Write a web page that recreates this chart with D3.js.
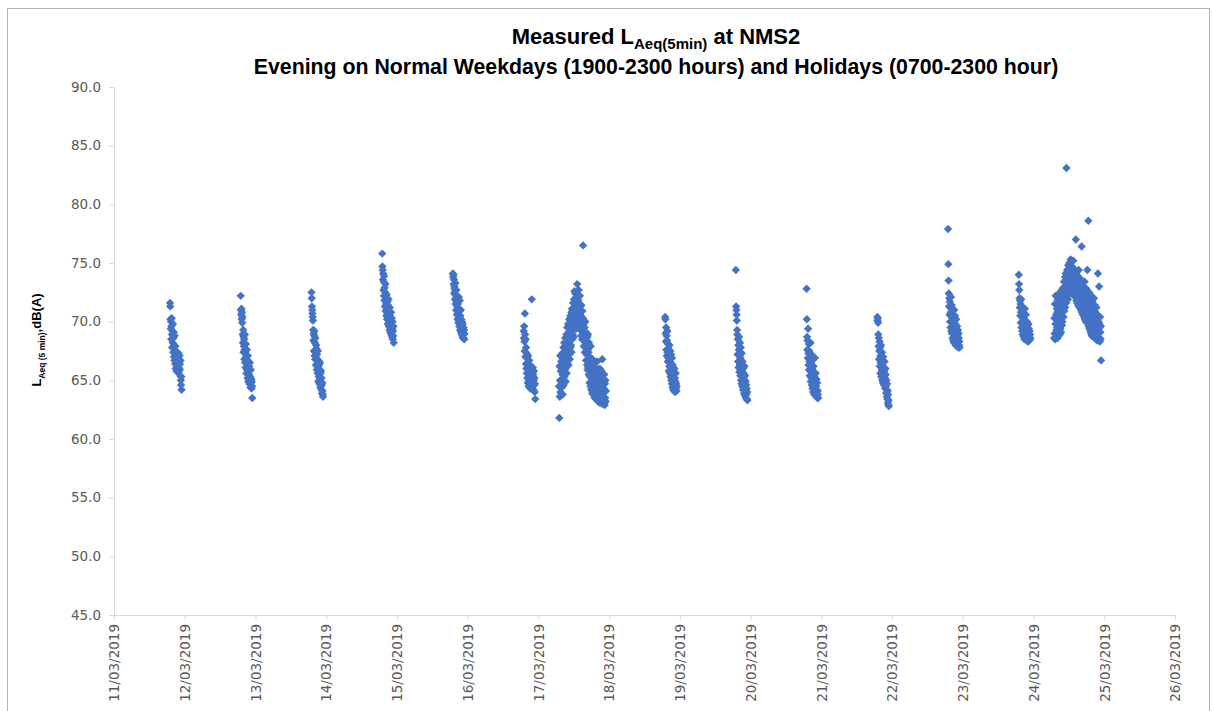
<!DOCTYPE html>
<html>
  <head>
    <meta charset="utf-8">
    <script src="https://cdn.jsdelivr.net/npm/d3@7"></script>
    <style>
      body { margin: 0; background: #fff; }
      svg { display: block; }
    </style>
  </head>
  <body>
    <svg width="1212" height="711"></svg>
    <script>

        // Tick labels for both axes
        var dateTicks = ["11/03/2019", "12/03/2019", "13/03/2019", "14/03/2019", "15/03/2019", "16/03/2019",
                         "17/03/2019", "18/03/2019", "19/03/2019", "20/03/2019", "21/03/2019", "22/03/2019",
                         "23/03/2019", "24/03/2019", "25/03/2019", "26/03/2019"];
        var levelTicks = [45, 50, 55, 60, 65, 70, 75, 80, 85, 90];

        // 5 minute LAeq readings, evenings start 19:00, holidays start 07:00
        var d11 = [71.6, 71.3, 70.2, 69.4, 70.0, 68.5, 69.6, 70.3, 68.9, 67.8, 69.2, 68.2, 69.8, 67.4, 68.6, 69.1,
                   67.0, 68.0, 66.7, 68.8, 67.3, 66.4, 67.9, 66.0, 67.5, 66.8, 65.8, 67.2, 66.2, 65.9, 67.0, 66.5,
                   65.7, 66.9, 66.1, 67.3, 65.8, 66.6, 66.0, 67.1, 65.9, 66.4, 65.4, 66.7, 65.0, 64.6, 65.3, 64.2];
        var d12 = [72.2, 71.0, 70.6, 71.1, 70.2, 70.8, 69.9, 70.4, 68.9, 68.2, 69.3, 67.4, 68.7, 67.9, 68.5, 66.8,
                   67.6, 68.9, 66.5, 67.3, 66.1, 68.1, 67.0, 65.6, 66.8, 67.6, 65.9, 66.4, 65.2, 67.1, 66.0, 64.9,
                   66.6, 65.5, 66.2, 64.7, 65.8, 66.5, 64.9, 65.3, 64.4, 65.9, 64.8, 65.1, 64.3, 64.9, 64.5, 63.5];
        var d13 = [72.5, 72.0, 71.3, 71.0, 70.7, 70.4, 70.1, 69.3, 68.4, 69.0, 67.5, 68.8, 69.2, 67.1, 68.2, 66.8,
                   68.6, 67.4, 66.3, 68.0, 66.9, 67.7, 65.9, 67.2, 66.4, 65.6, 67.5, 66.1, 64.9, 66.7, 65.3, 66.3,
                   64.7, 65.9, 65.1, 66.5, 64.4, 65.6, 64.9, 65.8, 64.2, 65.2, 64.6, 63.9, 64.8, 64.1, 63.8, 63.6];
        var d14 = [75.8, 74.7, 74.4, 73.6, 74.1, 72.7, 73.4, 72.2, 73.9, 71.8, 72.9, 71.3, 72.5, 73.2, 70.9, 72.0,
                   71.5, 70.5, 72.3, 71.1, 70.2, 71.7, 70.7, 69.8, 71.4, 70.3, 71.9, 69.6, 70.9, 70.0, 69.3, 71.2,
                   70.5, 69.1, 70.1, 69.6, 70.8, 68.9, 69.8, 70.3, 68.7, 69.4, 70.0, 68.5, 69.2, 68.8, 69.6, 68.2];
        var d15 = [74.1, 73.8, 74.0, 73.2, 73.6, 72.4, 73.0, 72.8, 71.9, 72.6, 73.3, 71.5, 72.2, 71.0, 72.7, 71.7,
                   70.6, 71.3, 72.0, 70.2, 71.5, 70.8, 69.9, 71.1, 72.1, 70.4, 69.6, 70.9, 71.8, 69.3, 70.5, 69.8,
                   71.0, 69.1, 70.2, 69.6, 68.9, 70.0, 69.4, 68.7, 69.8, 69.2, 68.6, 69.5, 68.9, 69.3, 68.5, 69.0];
        var d16 = [69.2, 68.6, 69.6, 68.3, 67.5, 70.7, 68.9, 67.0, 68.5, 66.4, 67.8, 66.0, 67.3, 65.6, 66.9, 65.2,
                   66.5, 64.8, 67.1, 65.9, 64.5, 66.2, 65.0, 66.7, 64.7, 65.5, 66.3, 64.3, 65.8, 64.9, 66.0, 65.2,
                   64.6, 71.9, 65.7, 64.4, 65.3, 66.1, 64.8, 65.5, 64.2, 65.0, 65.8, 64.6, 65.2, 64.0, 64.7, 63.4];
        var d17 = [64.5, 61.8, 66.2, 63.6, 65.0, 67.1, 64.0, 65.8, 63.9, 66.6, 64.8, 66.0,
                   64.4, 67.3, 65.5, 63.8, 66.8, 65.1, 67.8, 64.6, 66.3, 68.2, 65.3, 67.0,
                   65.9, 68.6, 66.5, 64.9, 67.6, 66.1, 68.9, 65.6, 67.3, 69.5, 66.4, 68.1,
                   66.9, 69.8, 67.5, 66.3, 68.7, 70.2, 67.2, 69.1, 66.8, 68.4, 70.5, 67.8,
                   69.4, 68.0, 70.8, 67.4, 69.7, 71.1, 68.5, 70.1, 68.9, 71.6, 69.3, 70.6,
                   68.7, 71.9, 70.3, 72.6, 69.6, 71.3, 72.4, 70.0, 71.7, 69.4, 72.1, 70.7,
                   71.5, 70.2, 73.2, 69.9, 72.0, 70.9, 71.8, 69.5, 72.7, 70.4, 71.2, 69.8,
                   70.6, 72.2, 69.3, 71.0, 69.9, 70.5, 68.8, 71.4, 69.6, 70.2, 68.5, 70.9,
                   69.2, 70.3, 76.5, 68.6, 69.8, 67.9, 70.1, 68.3, 69.5, 67.4, 68.9, 70.0,
                   67.8, 69.1, 66.7, 68.4, 67.2, 69.0, 66.3, 68.7, 65.9, 67.6, 68.9, 66.1,
                   67.4, 65.5, 68.2, 66.0, 64.8, 67.0, 65.3, 66.6, 64.5, 67.9, 65.7, 64.2,
                   66.4, 64.7, 65.9, 63.9, 66.8, 65.1, 64.0, 66.2, 64.6, 65.6, 63.7, 66.5,
                   64.9, 63.5, 65.8, 64.3, 66.1, 63.8, 65.2, 64.5, 63.4, 65.7, 64.1, 66.6,
                   63.6, 65.0, 64.4, 63.2, 65.9, 64.0, 63.5, 65.3, 64.7, 63.1, 66.0, 64.2,
                   63.7, 65.4, 64.8, 63.3, 64.1, 65.8, 63.0, 64.6, 66.8, 63.9, 64.9, 63.4,
                   65.1, 63.6, 64.3, 63.0, 65.5, 64.0, 62.9, 64.7, 63.5, 65.0, 63.2, 64.1];
        var d18 = [70.4, 70.2, 69.0, 68.3, 69.5, 67.6, 68.8, 67.1, 68.4, 69.2, 67.4, 66.6, 68.1, 66.9, 67.7, 65.8,
                   67.3, 66.2, 68.0, 65.6, 66.8, 67.5, 65.3, 66.5, 67.2, 65.0, 66.1, 64.7, 66.9, 65.4, 64.4, 66.3,
                   65.1, 64.2, 65.8, 64.8, 65.5, 64.1, 66.0, 64.6, 65.2, 64.0, 64.9, 65.6, 64.3, 64.7, 64.1, 64.5];
        var d19 = [74.4, 71.3, 71.0, 70.6, 70.1, 69.3, 68.9, 67.2, 68.5, 66.6, 68.0, 66.1, 67.6, 68.7, 65.7, 67.1,
                   66.3, 68.2, 65.4, 66.9, 67.8, 65.0, 66.4, 64.7, 67.3, 65.8, 64.5, 66.6, 65.2, 64.2, 66.0, 64.8,
                   65.6, 63.9, 65.1, 66.2, 64.4, 63.7, 65.4, 64.1, 64.9, 63.5, 64.6, 63.8, 64.3, 63.4, 64.0, 63.3];
        var d20 = [72.8, 70.2, 68.7, 67.6, 68.4, 66.9, 69.4, 67.3, 66.3, 68.1, 65.9, 67.5, 66.6, 65.4, 67.0, 65.8,
                   68.2, 64.9, 66.5, 65.2, 67.2, 64.6, 66.0, 65.5, 64.3, 66.8, 65.0, 64.0, 66.2, 64.7, 65.7, 63.8,
                   65.3, 64.4, 66.9, 63.7, 64.9, 65.6, 63.9, 64.5, 65.1, 63.6, 64.2, 64.8, 63.5, 64.1, 63.8, 63.5];
        var d21 = [70.4, 70.1, 70.3, 69.9, 68.9, 67.9, 68.6, 66.8, 67.5, 68.3, 66.2, 67.8, 65.6, 67.1, 66.5, 68.0,
                   65.3, 66.8, 65.9, 67.4, 65.0, 66.3, 65.7, 64.8, 67.0, 65.4, 66.1, 64.6, 65.8, 66.6, 64.9, 65.2,
                   64.3, 66.0, 65.5, 64.5, 63.9, 65.0, 64.2, 63.6, 64.7, 63.4, 64.1, 63.1, 63.8, 62.9, 63.3, 62.8];
        var d22 = [77.9, 74.9, 73.5, 72.4, 71.3, 72.0, 70.6, 71.7, 70.0, 71.2, 69.5, 70.8, 72.1, 69.2, 70.4, 71.4,
                   69.0, 70.1, 68.6, 70.9, 69.7, 68.4, 70.3, 69.4, 68.2, 71.0, 69.1, 68.7, 70.5, 68.3, 69.8, 68.0,
                   69.5, 70.2, 68.5, 69.0, 67.9, 69.6, 68.8, 68.1, 69.3, 68.4, 67.8, 69.0, 68.6, 68.0, 68.3, 67.8];
        var d23 = [74.0, 73.2, 72.7, 72.0, 71.2, 71.8, 70.5, 71.5, 69.9, 70.8, 71.9, 69.5, 70.4, 71.3, 69.2, 70.7,
                   68.9, 70.1, 71.0, 69.4, 68.7, 70.5, 69.8, 68.5, 70.2, 71.1, 69.1, 68.6, 69.9, 70.6, 68.8, 69.6,
                   68.4, 70.0, 69.3, 68.6, 69.7, 68.3, 69.0, 69.8, 68.5, 69.4, 68.7, 68.4, 69.2, 68.5, 68.9, 68.6];
        var d24 = [68.6, 70.3, 69.0, 71.5, 68.5, 69.8, 72.2, 68.9, 70.6, 69.3, 68.7, 71.1,
                   69.5, 70.8, 68.6, 71.9, 69.9, 68.8, 70.4, 72.4, 69.2, 70.1, 71.4, 68.9,
                   70.7, 69.4, 72.0, 70.2, 69.1, 71.6, 70.5, 72.7, 69.7, 71.2, 70.0, 72.3,
                   71.0, 72.9, 70.4, 71.8, 73.4, 70.9, 72.5, 71.5, 73.8, 71.2, 72.2, 74.1,
                   72.8, 71.6, 83.1, 73.3, 72.1, 74.4, 72.6, 73.7, 71.9, 74.8, 73.0, 72.4,
                   74.2, 72.9, 75.0, 73.5, 72.5, 74.6, 73.1, 75.3, 72.7, 74.0, 73.6, 75.1,
                   73.2, 74.7, 72.6, 74.3, 73.8, 72.3, 75.2, 73.4, 72.8, 74.5, 73.0, 72.2,
                   74.0, 72.7, 73.6, 72.1, 77.0, 73.3, 71.8, 74.2, 72.5, 73.1, 71.6, 73.9,
                   72.4, 73.5, 71.4, 72.9, 74.4, 71.9, 73.0, 71.2, 72.6, 73.7, 71.5, 72.2,
                   73.2, 71.0, 72.7, 71.7, 76.4, 70.8, 72.4, 71.3, 73.0, 70.6, 71.9, 72.6,
                   71.1, 72.3, 70.4, 71.6, 73.4, 70.2, 71.9, 70.9, 72.1, 70.0, 71.4, 72.8,
                   70.6, 71.8, 69.9, 74.4, 71.2, 70.3, 72.0, 78.6, 69.6, 71.0, 72.5, 70.5,
                   69.4, 71.5, 70.1, 69.2, 72.3, 70.7, 69.0, 71.3, 69.8, 70.5, 68.8, 71.8,
                   70.2, 69.1, 71.0, 68.7, 70.6, 69.5, 72.0, 68.9, 70.3, 69.3, 71.4, 68.6,
                   69.9, 70.8, 68.5, 69.6, 71.2, 68.9, 70.1, 69.2, 68.4, 70.5, 74.1, 69.0,
                   68.7, 70.0, 69.4, 73.0, 68.6, 69.8, 68.3, 70.4, 69.1, 68.5, 69.6, 66.7];

        // Which day each run of readings belongs to and when it starts
        var runs = [
          {date: "11/03/2019", start: "19:00", values: d11},
          {date: "12/03/2019", start: "19:00", values: d12},
          {date: "13/03/2019", start: "19:00", values: d13},
          {date: "14/03/2019", start: "19:00", values: d14},
          {date: "15/03/2019", start: "19:00", values: d15},
          {date: "16/03/2019", start: "19:00", values: d16},
          {date: "17/03/2019", start: "07:00", values: d17},
          {date: "18/03/2019", start: "19:00", values: d18},
          {date: "19/03/2019", start: "19:00", values: d19},
          {date: "20/03/2019", start: "19:00", values: d20},
          {date: "21/03/2019", start: "19:00", values: d21},
          {date: "22/03/2019", start: "19:00", values: d22},
          {date: "23/03/2019", start: "19:00", values: d23},
          {date: "24/03/2019", start: "07:00", values: d24}
        ];

        var parseDay = d3.timeParse("%d/%m/%Y");
        var parseStamp = d3.timeParse("%d/%m/%Y %H:%M");

        var points = [];
        runs.forEach(function(r) {
          var t0 = parseStamp(r.date + " " + r.start);
          r.values.forEach(function(v, i) {
            points.push({t: d3.timeMinute.offset(t0, i * 5), v: v});
          });
        });

        // plot area (careful: "top" is taken by window.top)
        var plotLeft = 114, plotRight = 1175, plotTop = 87, plotBottom = 615;
        var blue = "#4472C4";
        var axisGrey = "#d9d9d9";
        var labelGrey = "#595959";

        var svg = d3.select("svg");

        // chart border
        svg.append("rect")
          .attr("x", 7.5).attr("y", 8.5)
          .attr("width", 1202).attr("height", 720)
          .attr("fill", "none")
          .attr("stroke", "#b4b4b4");

        var xScale = d3.scaleTime()
          .domain([parseDay(dateTicks[0]), parseDay(dateTicks[dateTicks.length - 1])])
          .range([plotLeft, plotRight]);

        var yScale = d3.scaleLinear()
          .domain([45, 90])
          .range([plotBottom, plotTop]);

        // Y axis
        var yAxis = svg.append("g")
          .attr("transform", "translate(" + plotLeft + ",0)")
          .call(d3.axisLeft(yScale).tickValues(levelTicks).tickFormat(d3.format(".1f")).tickSize(5).tickPadding(8));

        // X axis
        var xAxis = svg.append("g")
          .attr("transform", "translate(0," + plotBottom + ")")
          .call(d3.axisBottom(xScale).tickValues(dateTicks.map(parseDay))
                .tickFormat(d3.timeFormat("%d/%m/%Y")).tickSize(5));
        xAxis.selectAll("text")
          .attr("transform", "rotate(-90)")
          .attr("x", -9)
          .attr("y", 0)
          .attr("dy", "0.35em")
          .style("text-anchor", "end");

        [xAxis, yAxis].forEach(function(g) {
          g.select(".domain").attr("stroke", axisGrey);
          g.selectAll(".tick line").attr("stroke", axisGrey);
          g.selectAll("text")
            .attr("fill", labelGrey)
            .style("font-family", "'DejaVu Sans', Verdana, sans-serif")
            .style("font-size", "13.5px");
        });

        // the readings as diamonds
        svg.append("g").selectAll("path")
          .data(points)
          .enter()
          .append("path")
          .attr("d", "M0,-4.2L4.2,0L0,4.2L-4.2,0Z")
          .attr("transform", function(d) {
            return "translate(" + xScale(d.t) + "," + yScale(d.v) + ")";
          })
          .attr("fill", blue);

        // Titles
        var title = svg.append("text")
          .attr("x", 656).attr("y", 44)
          .attr("text-anchor", "middle")
          .style("font-family", "'Liberation Sans', Arial, sans-serif")
          .style("font-weight", "bold")
          .style("font-size", "22px")
          .attr("fill", "#000");
        title.append("tspan").text("Measured L");
        title.append("tspan").attr("dy", 5).style("font-size", "15px").text("Aeq(5min)");
        title.append("tspan").attr("dy", -5).text(" at NMS2");

        svg.append("text")
          .attr("x", 656).attr("y", 74)
          .attr("text-anchor", "middle")
          .style("font-family", "'Liberation Sans', Arial, sans-serif")
          .style("font-weight", "bold")
          .style("font-size", "21.3px")
          .attr("fill", "#000")
          .text("Evening on Normal Weekdays (1900-2300 hours) and Holidays (0700-2300 hour)");

        var yTitle = svg.append("text")
          .attr("transform", "translate(41," + 340 + ") rotate(-90)")
          .attr("text-anchor", "middle")
          .style("font-family", "'Liberation Sans', Arial, sans-serif")
          .style("font-weight", "bold")
          .style("font-size", "13px")
          .attr("fill", "#000");
        yTitle.append("tspan").text("L");
        yTitle.append("tspan").attr("dy", 4).style("font-size", "8.5px").text("Aeq (5 min)");
        yTitle.append("tspan").attr("dy", -4).text(",dB(A)");

    </script>
  </body>
</html>
